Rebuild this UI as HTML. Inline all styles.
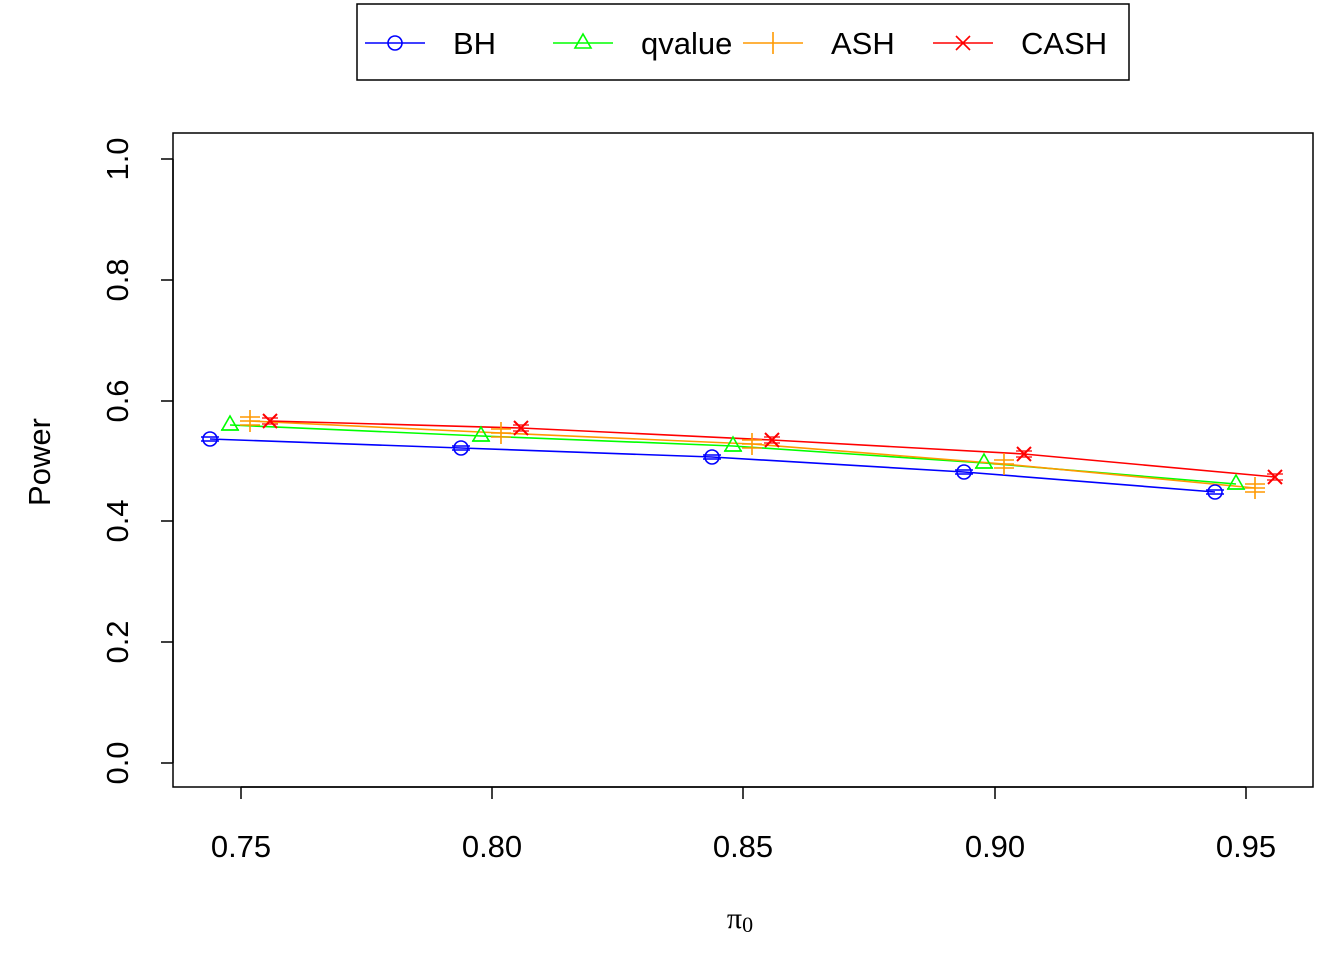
<!DOCTYPE html>
<html><head><meta charset="utf-8"><style>body{margin:0;background:#fff}</style></head><body>
<svg width="1344" height="960" xmlns="http://www.w3.org/2000/svg" font-family="Liberation Sans, sans-serif">
<rect width="1344" height="960" fill="#fff"/>
<rect x="173" y="133" width="1140" height="654" fill="none" stroke="#000" stroke-width="1.5"/>
<g stroke="#000" stroke-width="1.5">
<line x1="241" y1="787" x2="1246" y2="787"/>
<line x1="241" y1="787" x2="241" y2="799"/><line x1="492" y1="787" x2="492" y2="799"/><line x1="743" y1="787" x2="743" y2="799"/><line x1="995" y1="787" x2="995" y2="799"/><line x1="1246" y1="787" x2="1246" y2="799"/>
<line x1="173" y1="159" x2="173" y2="763"/>
<line x1="161" y1="763" x2="173" y2="763"/><line x1="161" y1="642" x2="173" y2="642"/><line x1="161" y1="521" x2="173" y2="521"/><line x1="161" y1="401" x2="173" y2="401"/><line x1="161" y1="280" x2="173" y2="280"/><line x1="161" y1="159" x2="173" y2="159"/>
</g>
<g font-size="31" text-anchor="middle" fill="#000">
<text x="241" y="857">0.75</text><text x="492" y="857">0.80</text><text x="743" y="857">0.85</text><text x="995" y="857">0.90</text><text x="1246" y="857">0.95</text>
<text transform="translate(128,763) rotate(-90)">0.0</text>
<text transform="translate(128,642) rotate(-90)">0.2</text>
<text transform="translate(128,521) rotate(-90)">0.4</text>
<text transform="translate(128,401) rotate(-90)">0.6</text>
<text transform="translate(128,280) rotate(-90)">0.8</text>
<text transform="translate(128,159) rotate(-90)">1.0</text>
<text transform="translate(50,462) rotate(-90)">Power</text>
<text x="740" y="928" font-family="Liberation Serif, serif" font-size="30">π<tspan font-size="22" dy="4">0</tspan></text>
</g>
<g fill="none" stroke-width="1.6">
<polyline stroke="#0000ff" points="210,439 461,448 712,457 964,472 1215,492"/>
<polyline stroke="#00ff00" points="230,425 481,436 733,446 984,463 1236,484"/>
<polyline stroke="#ff9900" points="250,421 501,433 752,444 1004,464 1255,488"/>
<polyline stroke="#ff0000" points="270,421 521,428 772,440 1024,454 1275,477"/>
<g stroke="#0000ff">
<circle cx="210" cy="439" r="7"/><circle cx="461" cy="448" r="7"/><circle cx="712" cy="457" r="7"/><circle cx="964" cy="472" r="7"/><circle cx="1215" cy="492" r="7"/>
<path d="M201 437h18M201 441h18M452 446h18M452 450h18M703 455h18M703 459h18M955 470h18M955 474h18M1206 490h18M1206 494h18"/>
</g>
<g stroke="#00ff00">
<path d="M230 416l8 14h-16zM481 427l8 14h-16zM733 437l8 14h-16zM984 454l8 14h-16zM1236 475l8 14h-16z"/>
<path d="M221 430h18M472 441h18M724 451h18M975 468h18M1227 489h18"/>
</g>
<g stroke="#ff9900">
<path d="M250 410v22M240 421h20M240 417h20M240 425h20M501 422v22M491 433h20M491 429h20M491 437h20M752 433v22M742 444h20M742 440h20M742 448h20M1004 453v22M994 464h20M994 460h20M994 468h20M1255 477v22M1245 488h20M1245 484h20M1245 492h20"/>
</g>
<g stroke="#ff0000" stroke-width="2">
<path d="M263 414l14 14M277 414l-14 14M514 421l14 14M528 421l-14 14M765 433l14 14M779 433l-14 14M1017 447l14 14M1031 447l-14 14M1268 470l14 14M1282 470l-14 14"/>
<path d="M262 418h16M262 424h16M513 425h16M513 431h16M764 437h16M764 443h16M1016 451h16M1016 457h16M1267 474h16M1267 480h16" stroke-width="1.3"/>
</g>
</g>
<rect x="357" y="4" width="772" height="76" fill="none" stroke="#000" stroke-width="1.5"/>
<g stroke-width="1.6" fill="none">
<line x1="365" y1="43" x2="425" y2="43" stroke="#0000ff"/><circle cx="395" cy="43" r="7" stroke="#0000ff"/>
<line x1="553" y1="43" x2="613" y2="43" stroke="#00ff00"/><path d="M583 34l8 14h-16z" stroke="#00ff00"/>
<line x1="743" y1="43" x2="803" y2="43" stroke="#ff9900"/><path d="M773 32v22" stroke="#ff9900"/>
<line x1="933" y1="43" x2="993" y2="43" stroke="#ff0000"/><path d="M956 36l14 14M970 36l-14 14" stroke="#ff0000"/>
</g>
<g font-size="31" fill="#000">
<text x="453" y="54">BH</text><text x="641" y="54">qvalue</text><text x="831" y="54">ASH</text><text x="1021" y="54">CASH</text>
</g>
</svg>
</body></html>
